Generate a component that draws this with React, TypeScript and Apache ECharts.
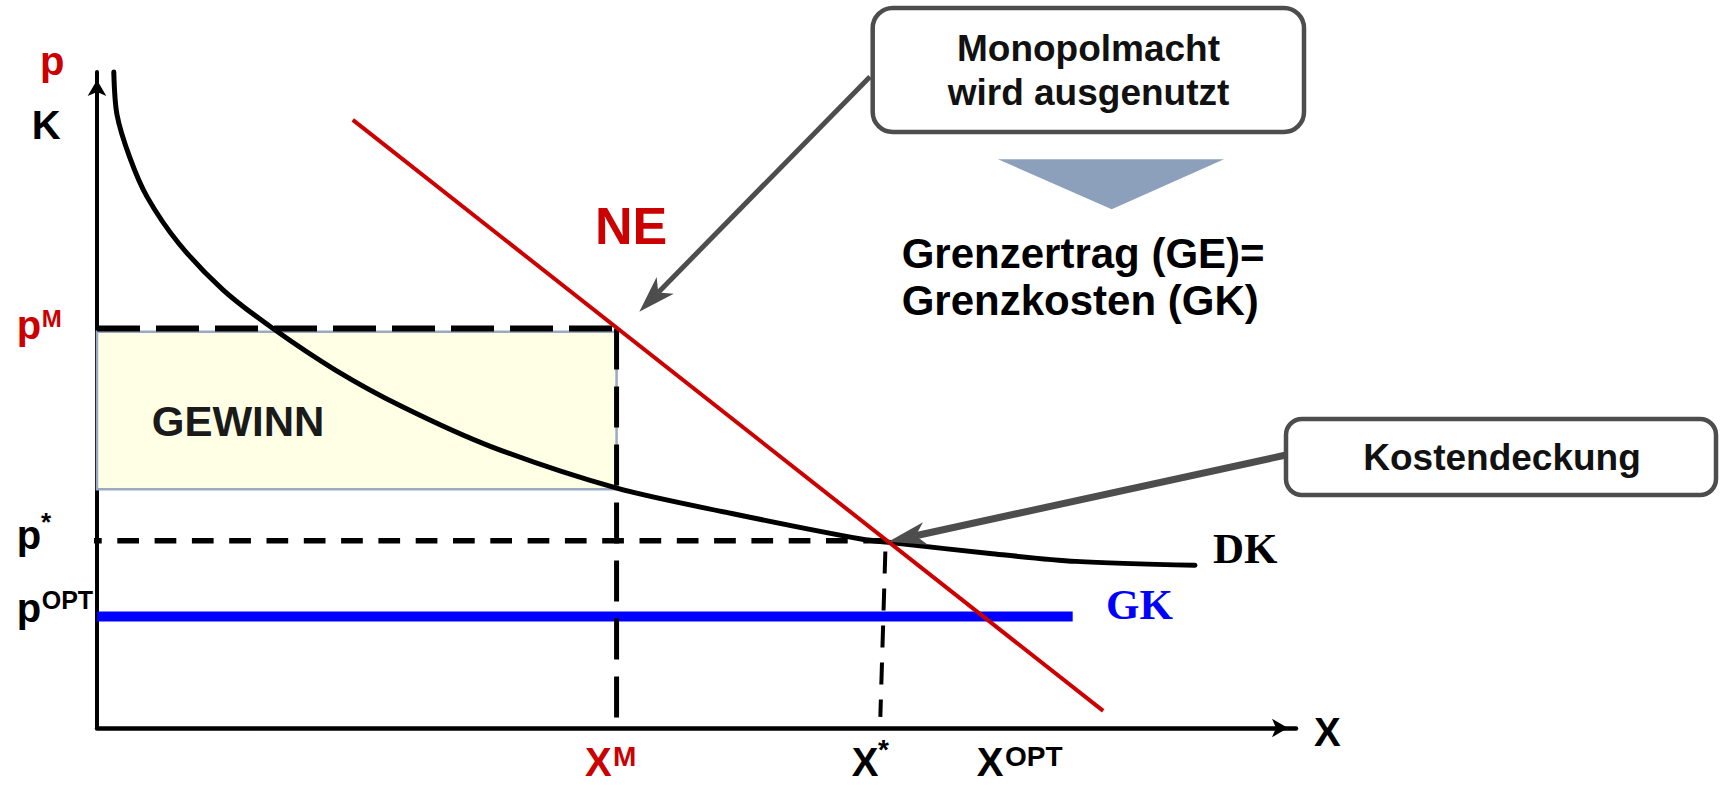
import React, { useEffect, useRef } from "react";
import * as echarts from "echarts";

// ---------- data ----------
const xRange = [0, 12];
const yRange = [0, 10];

const xM = 5.2; // Monopol-Menge
const xStarTop = 7.89; // X* guide (slightly slanted in the original)
const xStarFoot = 7.84;
const xStarGuideY = [2.69, 0.17];
const pM = 6.09; // Monopolpreis
const pStar = 2.855;
const pOpt = 1.7;
const pStarGuideStart = -0.08;

const gewinnTop = 6.04;
const gewinnBottom = 3.64; // DK at xM

const dkX = [0.168, 0.2, 0.325, 0.5, 0.817, 1.261, 1.751, 2.382, 3.052, 3.943, 5.194, 6.353, 7.647, 7.987, 8.937, 9.798, 10.989];
const dkY = [10.0, 9.35, 8.71, 8.1, 7.39, 6.68, 6.1, 5.46, 4.9, 4.29, 3.66, 3.27, 2.88, 2.82, 2.66, 2.54, 2.48];

const neX = [2.56, 10.07];
const neY = [9.27, 0.26];

const gkX = [0, 9.765];

// ---------- styling ----------
const RED = "#CC0000";
const BLUE = "#0000FF";
const GREY = "#4D4D4D";
const SANS = '"Liberation Sans", Arial, Helvetica, sans-serif';
const SERIF = '"Liberation Serif", "Times New Roman", serif';

const GRID = { left: 97, top: 72, width: 1199, height: 656 };

function zip(xs: number[], ys: number[]) {
  return xs.map((x, i) => [x, ys[i]]);
}

function arrow(x1: number, y1: number, x2: number, y2: number, len: number, half: number, notch: number, width: number) {
  const dx = x2 - x1;
  const dy = y2 - y1;
  const L = Math.hypot(dx, dy);
  const ux = dx / L;
  const uy = dy / L;
  const px = -uy;
  const py = ux;
  const bx = x2 - ux * len;
  const by = y2 - uy * len;
  const nx = x2 - ux * notch;
  const ny = y2 - uy * notch;
  return [
    {
      type: "line",
      z: 100,
      silent: true,
      shape: { x1, y1, x2: nx, y2: ny },
      style: { stroke: GREY, lineWidth: width, lineCap: "butt" },
    },
    {
      type: "polygon",
      z: 100,
      silent: true,
      shape: {
        points: [
          [x2, y2],
          [bx + px * half, by + py * half],
          [nx, ny],
          [bx - px * half, by - py * half],
        ],
      },
      style: { fill: GREY },
    },
  ];
}

function label(text: string, x: number, y: number, size: number, fill: string, opts: any = {}) {
  return {
    type: "text",
    x,
    y,
    z: 110,
    silent: true,
    style: {
      text,
      fill,
      font: `bold ${size}px ${opts.family || SANS}`,
      align: opts.align || "left",
      verticalAlign: "middle",
    },
  };
}

export default function App() {
  const ref = useRef<HTMLDivElement>(null);

  useEffect(() => {
    if (!ref.current) return;
    const chart = echarts.init(ref.current, null, { renderer: "svg" });

    const axisLine = {
      show: true,
      onZero: true,
      symbol: ["none", "arrow"],
      symbolSize: [14, 16],
      symbolOffset: [0, -8],
      lineStyle: { color: "#000", width: 4.5 },
    };

    const option: any = {
      animation: false,
      backgroundColor: "#fff",
      grid: { ...GRID, containLabel: false },
      xAxis: {
        type: "value",
        min: xRange[0],
        max: xRange[1],
        axisLine,
        axisTick: { show: false },
        axisLabel: { show: false },
        splitLine: { show: false },
      },
      yAxis: {
        type: "value",
        min: yRange[0],
        max: yRange[1],
        axisLine: { ...axisLine, lineStyle: { color: "#000", width: 4 } },
        axisTick: { show: false },
        axisLabel: { show: false },
        splitLine: { show: false },
      },
      series: [
        {
          name: "Gewinn",
          type: "line",
          z: 1,
          silent: true,
          symbol: "none",
          lineStyle: { opacity: 0 },
          data: [
            [0, gewinnTop],
            [xM, gewinnTop],
          ],
          markArea: {
            silent: true,
            itemStyle: { color: "#FFFFE5", borderColor: "#9AAAC2", borderWidth: 2.5 },
            label: { show: false },
            data: [[{ coord: [0, gewinnTop] }, { coord: [xM, gewinnBottom] }]],
          },
        },
        {
          name: "GK",
          type: "line",
          z: 3,
          silent: true,
          symbol: "none",
          lineStyle: { color: BLUE, width: 10, cap: "butt" },
          data: zip(gkX, [pOpt, pOpt]),
        },
        {
          name: "DK",
          type: "line",
          z: 4,
          silent: true,
          symbol: "none",
          smooth: 0.3,
          clip: false,
          lineStyle: { color: "#000", width: 5, cap: "round", join: "round" },
          data: zip(dkX, dkY),
        },
        {
          name: "pM guide",
          type: "line",
          z: 5,
          silent: true,
          symbol: "none",
          lineStyle: { color: "#000", width: 6, type: [43, 16], cap: "butt" },
          data: [
            [0, pM],
            [xM, pM],
          ],
        },
        {
          name: "xM guide",
          type: "line",
          z: 5,
          silent: true,
          symbol: "none",
          lineStyle: { color: "#000", width: 5, type: [41, 17], cap: "butt" },
          data: [
            [xM, pM],
            [xM, 0],
          ],
        },
        {
          name: "p* guide",
          type: "line",
          z: 5,
          silent: true,
          symbol: "none",
          clip: false,
          lineStyle: { color: "#000", width: 5.5, type: [21.7, 15.6], dashOffset: 9, cap: "butt" },
          data: [
            [pStarGuideStart, pStar],
            [xStarTop, pStar],
          ],
        },
        {
          name: "x* guide",
          type: "line",
          z: 5,
          silent: true,
          symbol: "none",
          lineStyle: { color: "#000", width: 4, type: [22, 15], cap: "butt" },
          data: [
            [xStarTop, xStarGuideY[0]],
            [xStarFoot, xStarGuideY[1]],
          ],
        },
        {
          name: "NE",
          type: "line",
          z: 6,
          silent: true,
          symbol: "none",
          lineStyle: { color: RED, width: 4, cap: "butt" },
          data: zip(neX, neY),
        },
      ],
      graphic: {
        elements: [
          // axis labels
          label("p", 40, 61, 40, RED),
          label("K", 31.7, 125, 40, "#000"),
          label("p", 16.7, 325, 40, RED),
          label("M", 41.7, 318.5, 24, RED),
          label("p", 16.7, 534.5, 40, "#000"),
          label("*", 41, 522, 26, "#000"),
          label("p", 16.7, 608, 40, "#000"),
          label("OPT", 41.7, 600, 25, "#000"),
          label("X", 585, 762, 40, RED),
          label("M", 613, 756, 28, RED),
          label("X", 851.7, 762, 40, "#000"),
          label("*", 878, 749, 28, "#000"),
          label("X", 976.7, 762, 40, "#000"),
          label("OPT", 1005, 756, 28, "#000"),
          label("X", 1314, 731.7, 40, "#000"),
          // curve labels
          label("DK", 1213, 548, 43, "#000", { family: SERIF }),
          label("GK", 1106, 604, 43, BLUE, { family: SERIF }),
          label("NE", 595, 226, 52, RED),
          label("GEWINN", 151.8, 421.7, 42, "#1a1a1a"),
          // box 1
          {
            type: "rect",
            z: 100,
            silent: true,
            shape: { x: 872.7, y: 8, width: 431.3, height: 124, r: 20 },
            style: { fill: "#fff", stroke: GREY, lineWidth: 4.5 },
          },
          label("Monopolmacht", 1088.5, 48.7, 37, "#111", { align: "center" }),
          label("wird ausgenutzt", 1088.5, 92, 37, "#111", { align: "center" }),
          ...arrow(870, 76.7, 639.3, 311.7, 37, 12, 27, 5),
          // triangle + conclusion
          {
            type: "polygon",
            z: 100,
            silent: true,
            shape: {
              points: [
                [998, 159.3],
                [1224, 159.3],
                [1111.7, 209.3],
              ],
            },
            style: { fill: "#8DA0BB" },
          },
          label("Grenzertrag (GE)=", 901.7, 253.3, 42, "#000"),
          label("Grenzkosten (GK)", 901.7, 300.3, 42, "#000"),
          // box 2
          {
            type: "rect",
            z: 100,
            silent: true,
            shape: { x: 1286, y: 419, width: 430, height: 76, r: 16 },
            style: { fill: "#fff", stroke: GREY, lineWidth: 4.5 },
          },
          label("Kostendeckung", 1502, 457.7, 37, "#111", { align: "center" }),
          ...arrow(1286, 455, 888.3, 541.7, 38, 11.5, 28, 7),
        ],
      },
    };

    chart.setOption(option);
    return () => chart.dispose();
  }, []);

  return (
    <div
      ref={ref}
      style={{ position: "fixed", left: 0, top: 0, width: 1726, height: 785, background: "#fff" }}
    />
  );
}
